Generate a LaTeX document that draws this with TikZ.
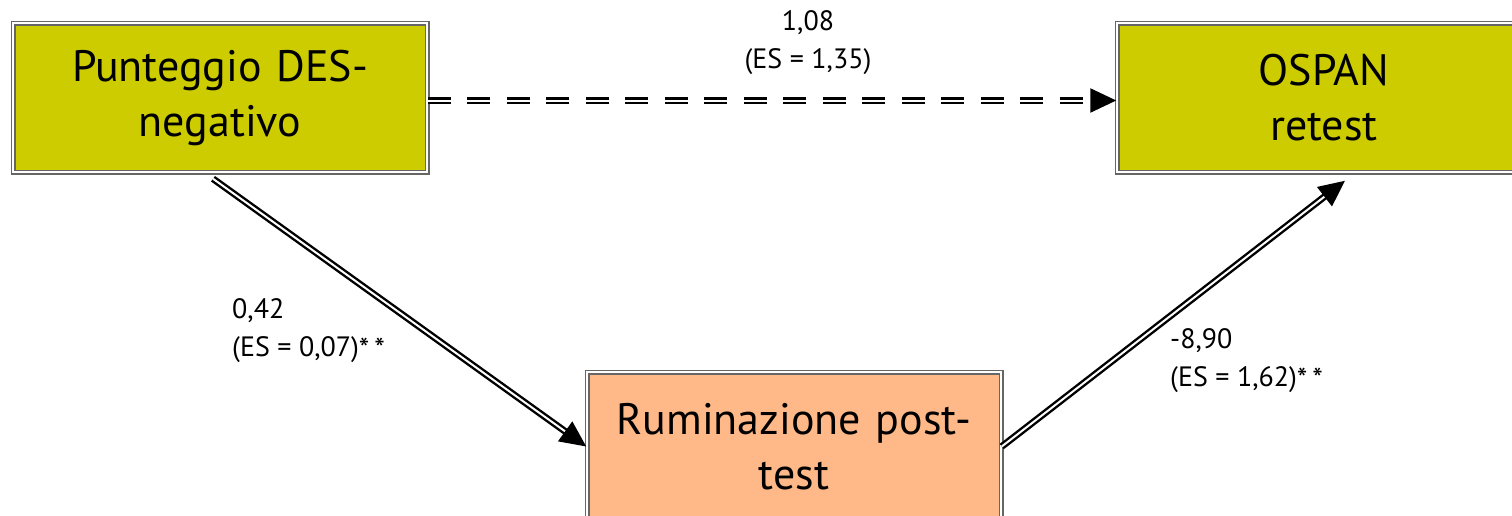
\documentclass[tikz,border=0pt]{standalone}
\usepackage{fontspec}
\setmainfont{PT Sans}
\usetikzlibrary{arrows.meta}
\definecolor{olivebox}{HTML}{CCCC00}
\definecolor{peachbox}{HTML}{FFB887}
\definecolor{framegrey}{HTML}{666666}
\newcommand{\stars}{\raisebox{-3pt}{\fontsize{30}{38}\selectfont*\,*}}

\begin{document}
\begin{tikzpicture}[x=1pt,y=-1pt,>={Triangle[length=26pt,width=24pt]},
    main node/.style={rectangle,draw=framegrey,double=white,line width=1.5pt,
      double distance=2pt,minimum width=414pt,minimum height=149pt,
      text width=400pt,align=center,font=\fontsize{44}{55}\selectfont},
    coef/.style={inner sep=0pt,font=\fontsize{28}{38}\selectfont},
    link/.style={draw=black,double=white,line width=2.4pt,double distance=2pt,->}]
    \path[use as bounding box,clip] (0,0) rectangle (1512,515);
    \node[main node,fill=olivebox] (des) at (220,97.5) {Punteggio DES-\\negativo};
    \node[main node,fill=olivebox] (ospan) at (1324,97.5) {OSPAN\\retest};
    \node[main node,fill=peachbox] (rum) at (794,446.5) {Ruminazione post-\\test};
    \node[coef,anchor=north,align=center] (c1) at (808,10) {1,08\\(ES = 1,35)};
    \node[coef,anchor=north west,align=left] (c2) at (232,298) {0,42\\(ES = 0,07)\stars};
    \node[coef,anchor=north west,align=left] (c3) at (1170,328) {-8,90\\(ES = 1,62)\stars};
    \path
    ([yshift=-3pt]des.east) edge [link,dash pattern=on 23pt off 16.5pt] ([yshift=-3pt]ospan.west)
    ([xshift=-7pt,yshift=-6pt]des.south) edge [link] (rum.west)
    (rum.east) edge [link] ([xshift=21pt,yshift=-8pt]ospan.south);
\end{tikzpicture}
\end{document}
